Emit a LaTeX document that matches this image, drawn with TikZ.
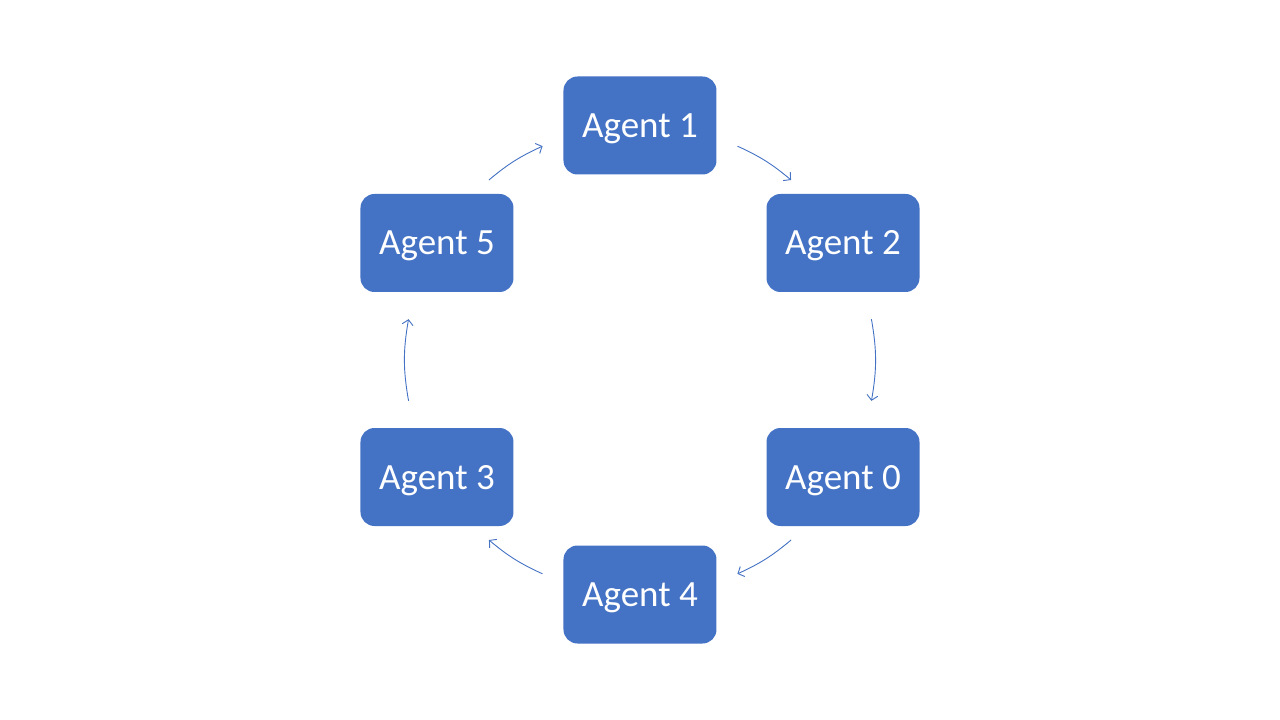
\documentclass[tikz,border=0pt]{standalone}
\usepackage{fontspec}
\setmainfont{Carlito}
\usetikzlibrary{arrows.meta}
\definecolor{agentblue}{HTML}{4472C4}
\begin{document}
\begin{tikzpicture}[x=1pt,y=1pt,
  agent/.style={fill=agentblue, draw=none, rounded corners=14pt, minimum width=153pt, minimum height=98pt, inner sep=0pt, text height=24pt, text depth=0pt, text=white, font=\fontsize{37}{44}\selectfont},
  flow/.style={draw=agentblue, line width=0.9pt, -{Straight Barb[length=5pt,width=11pt]}}]
\useasboundingbox (-640,-360) rectangle (640,360);
\fill[white] (-640,-360) rectangle (640,360);
\coordinate (O) at (0,0);
\node[agent] (A1) at (0,234.5) {Agent 1};
\node[agent] (A2) at (203,117) {Agent 2};
\node[agent] (A0) at (203,-117) {Agent 0};
\node[agent] (A4) at (0,-234.5) {Agent 4};
\node[agent] (A3) at (-203,-117) {Agent 3};
\node[agent] (A5) at (-203,117) {Agent 5};
% arc end points on a circle around O
\coordinate (s12) at (65.5:235);  \coordinate (e12) at (50:235);
\coordinate (s20) at (10:235);    \coordinate (e20) at (-10:235);
\coordinate (s04) at (-50:235);   \coordinate (e04) at (-65.5:235);
\coordinate (s43) at (245.5:235); \coordinate (e43) at (230:235);
\coordinate (s35) at (190:235);   \coordinate (e35) at (170:235);
\coordinate (s51) at (130:235);   \coordinate (e51) at (114.5:235);
\draw[flow] (s12) to[bend left=7.75] (e12);
\draw[flow] (s20) to[bend left=10] (e20);
\draw[flow] (s04) to[bend left=7.75] (e04);
\draw[flow] (s43) to[bend left=7.75] (e43);
\draw[flow] (s35) to[bend left=10] (e35);
\draw[flow] (s51) to[bend left=7.75] (e51);
\end{tikzpicture}
\end{document}
